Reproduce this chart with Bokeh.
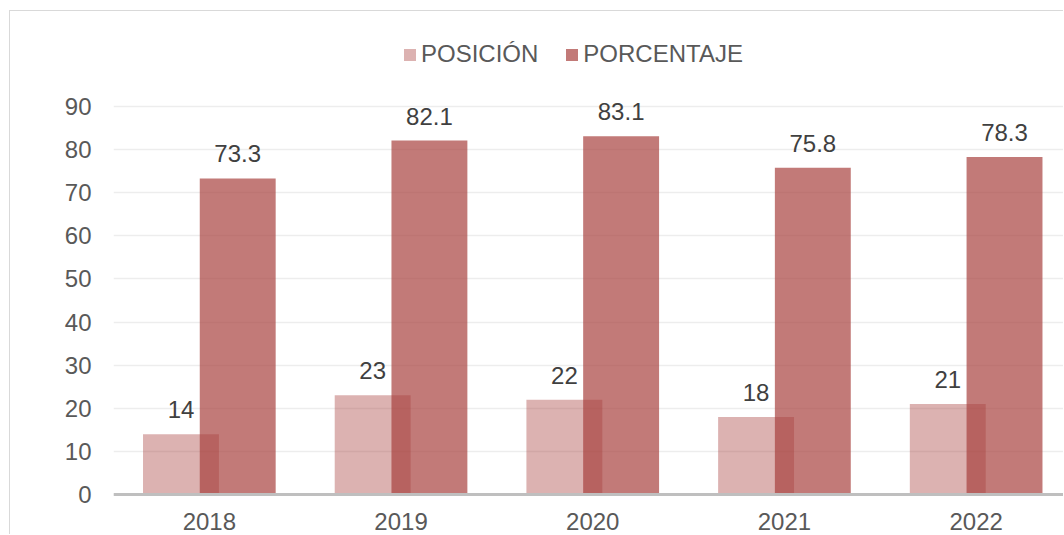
from bokeh.plotting import figure
from bokeh.models import FixedTicker, Span, Legend, LegendItem, ColumnDataSource, InlineStyleSheet, Range1d
from bokeh.embed import file_html
from bokeh.resources import INLINE
from bokeh.core.properties import value

# ---- data ----
years = ["2018", "2019", "2020", "2021", "2022"]
posicion = [14, 23, 22, 18, 21]
porcentaje = [73.3, 82.1, 83.1, 75.8, 78.3]
y_ticks = [0, 10, 20, 30, 40, 50, 60, 70, 80, 90]

# ---- layout constants (figure content starts at page x=10, y=11) ----
W, H = 1054, 524
FRAME_LEFT = 103
ZERO_PX = 483            # pixel (from figure top) of y = 0
NINETY_PX = 95           # pixel (from figure top) of y = 90
PPU = (ZERO_PX - NINETY_PX) / 90.0
Y_END = ZERO_PX / PPU
Y_START = -(H - ZERO_PX) / PPU
BAND = 191.7
X_END = (W - FRAME_LEFT) / BAND
BAR_W = 0.396
OFF = 0.148
FONT = "Liberation Sans"
TXT = "#595959"
BASE = "#A73E3B"

centers = [i + 0.5 for i in range(len(years))]

p = figure(width=W, height=H, output_backend="svg", toolbar_location=None,
           x_range=Range1d(0, X_END), y_range=Range1d(Y_START, Y_END),
           x_axis_location=None, min_border_left=FRAME_LEFT, min_border_right=0,
           min_border_top=0, min_border_bottom=0, outline_line_color=None)
p.stylesheets = [InlineStyleSheet(css=":host{margin-left:9px;margin-top:10px;"
                                      "border-left:1px solid #D9D9D9;border-top:1px solid #D9D9D9;}")]

# y axis
p.yaxis.ticker = FixedTicker(ticks=y_ticks)
p.yaxis.axis_line_color = None
p.yaxis.major_tick_line_color = None
p.yaxis.minor_tick_line_color = None
p.yaxis.major_label_text_font = FONT
p.yaxis.major_label_text_font_size = "24px"
p.yaxis.major_label_text_color = TXT
p.yaxis.major_label_standoff = 16
p.ygrid.ticker = FixedTicker(ticks=y_ticks)
p.ygrid.grid_line_color = "#EDEDED"
p.ygrid.grid_line_width = 1.5
p.xgrid.visible = False

LAB_OFF = 24.5 / PPU
src = ColumnDataSource(dict(
    xp=[c - OFF for c in centers], xq=[c + OFF for c in centers],
    pos=posicion, pct=porcentaje,
    pos_lab=[str(v) for v in posicion], pct_lab=[f"{v:.1f}" for v in porcentaje],
    pos_ly=[v + LAB_OFF for v in posicion], pct_ly=[v + LAB_OFF for v in porcentaje],
))

r1 = p.vbar(x="xp", top="pos", width=BAR_W, bottom=0, source=src,
            fill_color=BASE, fill_alpha=0.40, line_color=None)
r2 = p.vbar(x="xq", top="pct", width=BAR_W, bottom=0, source=src,
            fill_color=BASE, fill_alpha=0.69, line_color=None)

# x axis line
p.add_layout(Span(location=0, dimension="width", line_color="#BFBFBF", line_width=3))

# data labels
for xcol, ycol, tcol in (("xp", "pos_ly", "pos_lab"), ("xq", "pct_ly", "pct_lab")):
    p.text(x=xcol, y=ycol, text=tcol, source=src, text_align="center",
           text_baseline="middle", text_font=value(FONT),
           text_font_size="24px", text_color="#404040")

# year labels
ysrc = ColumnDataSource(dict(x=centers, y=[-27 / PPU] * len(centers), t=years))
p.text(x="x", y="y", text="t", source=ysrc, text_align="center",
       text_baseline="middle", text_font=value(FONT),
       text_font_size="24px", text_color=TXT)

legend = Legend(items=[LegendItem(label="POSICIÓN", renderers=[r1]),
                       LegendItem(label="PORCENTAJE", renderers=[r2])],
                orientation="horizontal", location=(289, 467),
                glyph_width=15, glyph_height=15, label_standoff=4, spacing=26,
                padding=0, margin=0, border_line_color=None, background_fill_alpha=0,
                label_text_font=FONT, label_text_font_size="24px", label_text_color=TXT)
p.add_layout(legend)

open("out.html", "w").write(file_html(p, INLINE))
